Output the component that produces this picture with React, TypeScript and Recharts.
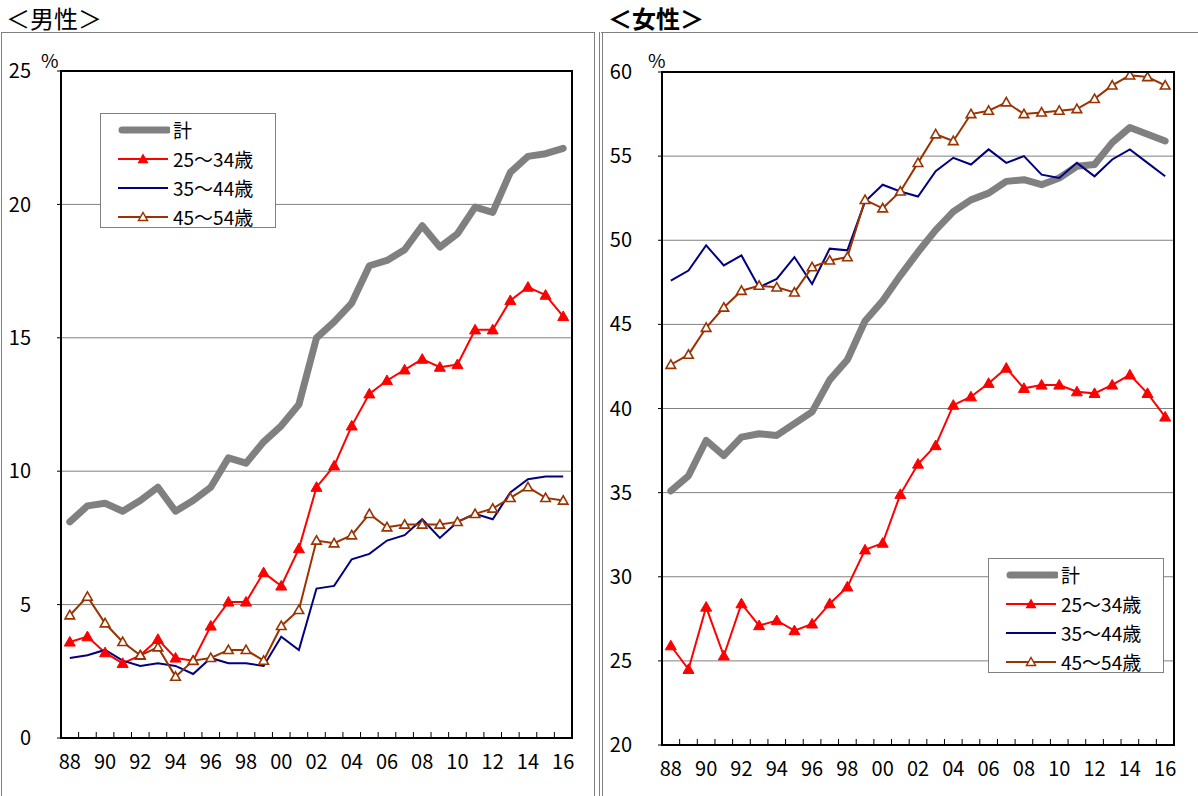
import React from 'react';
import { LineChart, Line, XAxis, YAxis, CartesianGrid } from 'recharts';

const YEARS = ['88', '89', '90', '91', '92', '93', '94', '95', '96', '97', '98', '99', '00', '01', '02', '03', '04', '05', '06', '07', '08', '09', '10', '11', '12', '13', '14', '15', '16'];
const SERIES_NAMES = ['計', '25〜34歳', '35〜44歳', '45〜54歳'];

const MALE_TOTAL = [8.1, 8.7, 8.8, 8.5, 8.9, 9.4, 8.5, 8.9, 9.4, 10.5, 10.3, 11.1, 11.7, 12.5, 15.0, 15.6, 16.3, 17.7, 17.9, 18.3, 19.2, 18.4, 18.9, 19.9, 19.7, 21.2, 21.8, 21.9, 22.1];
const MALE_25_34 = [3.6, 3.8, 3.2, 2.8, 3.1, 3.7, 3.0, 2.9, 4.2, 5.1, 5.1, 6.2, 5.7, 7.1, 9.4, 10.2, 11.7, 12.9, 13.4, 13.8, 14.2, 13.9, 14.0, 15.3, 15.3, 16.4, 16.9, 16.6, 15.8];
const MALE_35_44 = [3.0, 3.1, 3.3, 2.9, 2.7, 2.8, 2.7, 2.4, 3.0, 2.8, 2.8, 2.7, 3.8, 3.3, 5.6, 5.7, 6.7, 6.9, 7.4, 7.6, 8.2, 7.5, 8.1, 8.4, 8.2, 9.2, 9.7, 9.8, 9.8];
const MALE_45_54 = [4.6, 5.3, 4.3, 3.6, 3.1, 3.4, 2.3, 2.9, 3.0, 3.3, 3.3, 2.9, 4.2, 4.8, 7.4, 7.3, 7.6, 8.4, 7.9, 8.0, 8.0, 8.0, 8.1, 8.4, 8.6, 9.0, 9.4, 9.0, 8.9];

const FEMALE_TOTAL = [35.1, 36.0, 38.1, 37.2, 38.3, 38.5, 38.4, 39.1, 39.8, 41.7, 42.9, 45.2, 46.4, 47.9, 49.3, 50.6, 51.7, 52.4, 52.8, 53.5, 53.6, 53.3, 53.7, 54.4, 54.5, 55.8, 56.7, 56.3, 55.9];
const FEMALE_25_34 = [25.9, 24.5, 28.2, 25.3, 28.4, 27.1, 27.4, 26.8, 27.2, 28.4, 29.4, 31.6, 32.0, 34.9, 36.7, 37.8, 40.2, 40.7, 41.5, 42.4, 41.2, 41.4, 41.4, 41.0, 40.9, 41.4, 42.0, 40.9, 39.5];
const FEMALE_35_44 = [47.6, 48.2, 49.7, 48.5, 49.1, 47.2, 47.7, 49.0, 47.4, 49.5, 49.4, 52.3, 53.3, 52.9, 52.6, 54.1, 54.9, 54.5, 55.4, 54.6, 55.0, 53.9, 53.7, 54.6, 53.8, 54.8, 55.4, 54.6, 53.8];
const FEMALE_45_54 = [42.6, 43.2, 44.8, 46.0, 47.0, 47.3, 47.2, 46.9, 48.4, 48.8, 49.0, 52.4, 51.9, 52.9, 54.6, 56.3, 55.9, 57.5, 57.7, 58.2, 57.5, 57.6, 57.7, 57.8, 58.4, 59.2, 59.8, 59.7, 59.2];

const MALE_TICKS = [0, 5, 10, 15, 20, 25];
const FEMALE_TICKS = [20, 25, 30, 35, 40, 45, 50, 55, 60];

const NUM_FONT = '"Liberation Sans Narrow", "Arial Narrow", "Noto Sans CJK JP", sans-serif';
const JP_FONT = '"Noto Sans CJK JP", sans-serif';

const GRAY = '#808080';
const RED = '#ff0000';
const NAVY = '#000080';
const BROWN = '#993300';

const buildRows = (total: number[], a: number[], b: number[], c: number[]) =>
  YEARS.map((year, i) => ({ year, total: total[i], a: a[i], b: b[i], c: c[i] }));

const maleRows = buildRows(MALE_TOTAL, MALE_25_34, MALE_35_44, MALE_45_54);
const femaleRows = buildRows(FEMALE_TOTAL, FEMALE_25_34, FEMALE_35_44, FEMALE_45_54);

// triangle marker, used by both the lines and the legend
const triPath = (cx: number, cy: number, s: number) =>
  `M${cx},${cy - s} L${cx + s},${cy + s * 0.75} L${cx - s},${cy + s * 0.75} Z`;

const redDot = (p: any) =>
  p.cx == null ? null : <path key={`r${p.index}`} d={triPath(p.cx, p.cy, 5.5)} fill={RED} stroke={RED} strokeWidth={1} />;
const brownDot = (p: any) =>
  p.cx == null ? null : <path key={`b${p.index}`} d={triPath(p.cx, p.cy, 4.8)} fill="#fff" stroke={BROWN} strokeWidth={1.6} />;

// x ticks: labels on even years, small inward marks between categories
const makeXTick = (band: number) => (p: any) => {
  const { x, y, payload, index } = p;
  const even = parseInt(payload.value, 10) % 2 === 0;
  return (
    <g>
      {index > 0 && <line x1={x - band / 2} x2={x - band / 2} y1={y} y2={y - 6} stroke="#000" strokeWidth={1} />}
      {even && (
        <text x={x} y={y + 31} textAnchor="middle" fontSize={20} fontFamily={NUM_FONT} fill="#000">
          {payload.value}
        </text>
      )}
    </g>
  );
};

function LegendBox({ left, top }: { left: number; top: number }) {
  const row = (i: number) => {
    let sample;
    if (i === 0) sample = <line x1={4} x2={50} y1={7} y2={7} stroke={GRAY} strokeWidth={7} strokeLinecap="round" />;
    else if (i === 1)
      sample = (
        <g>
          <line x1={0} x2={50} y1={7} y2={7} stroke={RED} strokeWidth={2} />
          <path d={triPath(25, 7, 5.5)} fill={RED} />
        </g>
      );
    else if (i === 2) sample = <line x1={0} x2={50} y1={7} y2={7} stroke={NAVY} strokeWidth={2} />;
    else
      sample = (
        <g>
          <line x1={0} x2={50} y1={7} y2={7} stroke={BROWN} strokeWidth={2} />
          <path d={triPath(25, 7, 4.5)} fill="#fff" stroke={BROWN} strokeWidth={1.5} />
        </g>
      );
    return (
      <div key={i} style={{ display: 'flex', alignItems: 'center', height: 29 }}>
        <svg width={52} height={14} style={{ marginLeft: 17, marginRight: 3 }}>
          {sample}
        </svg>
        <span style={{ fontFamily: NUM_FONT, fontSize: 19, color: '#000' }}>{SERIES_NAMES[i]}</span>
      </div>
    );
  };
  return (
    <div
      style={{
        position: 'absolute',
        left,
        top,
        width: 176,
        height: 115,
        border: '1px solid #808080',
        background: '#fff',
        boxSizing: 'border-box',
        paddingTop: 1,
      }}
    >
      {[0, 1, 2, 3].map(row)}
    </div>
  );
}

function Panel({
  rows,
  domain,
  ticks,
  width,
  left,
  plotLeft,
  plotRight,
  plotTop,
  plotBottom,
}: {
  rows: any[];
  domain: [number, number];
  ticks: number[];
  width: number;
  left: number;
  plotLeft: number;
  plotRight: number;
  plotTop: number;
  plotBottom: number;
}) {
  const H = 796;
  const plotW = plotRight - plotLeft;
  const band = plotW / YEARS.length;
  return (
    <div style={{ position: 'absolute', left, top: 0, width, height: H }}>
      <LineChart
        width={width}
        height={H}
        data={rows}
        margin={{ top: plotTop, right: width - plotRight, bottom: H - plotBottom - 30, left: 0 }}
      >
        <CartesianGrid horizontal vertical={false} stroke={GRAY} strokeWidth={1} />
        <XAxis
          dataKey="year"
          interval={0}
          height={30}
          padding={{ left: band / 2, right: band / 2 }}
          tickLine={false}
          tickSize={0}
          tickMargin={0}
          axisLine={{ stroke: '#000', strokeWidth: 2 }}
          tick={makeXTick(band)}
        />
        <YAxis
          domain={domain}
          ticks={ticks}
          width={plotLeft}
          interval={0}
          tickSize={4}
          tickMargin={26}
          tickLine={{ stroke: '#000' }}
          axisLine={{ stroke: '#000', strokeWidth: 2 }}
          tick={{ fontSize: 20, fontFamily: NUM_FONT, fill: '#000' }}
          allowDataOverflow
        />
        <Line dataKey="total" name={SERIES_NAMES[0]} stroke={GRAY} strokeWidth={7} strokeLinejoin="round" strokeLinecap="round" dot={false} isAnimationActive={false} />
        <Line dataKey="a" name={SERIES_NAMES[1]} stroke={RED} strokeWidth={2} dot={redDot} isAnimationActive={false} />
        <Line dataKey="b" name={SERIES_NAMES[2]} stroke={NAVY} strokeWidth={2} dot={false} isAnimationActive={false} />
        <Line dataKey="c" name={SERIES_NAMES[3]} stroke={BROWN} strokeWidth={2} dot={brownDot} isAnimationActive={false} />
      </LineChart>
      {/* plot frame */}
      <div
        style={{
          position: 'absolute',
          left: plotLeft - 1,
          top: plotTop - 1,
          width: plotW + 2,
          height: plotBottom - plotTop + 2,
          border: '2px solid #000',
          boxSizing: 'border-box',
          pointerEvents: 'none',
        }}
      />
    </div>
  );
}

export default function App() {
  return (
    <div style={{ position: 'absolute', left: 0, top: 0, width: 1198, height: 796, overflow: 'hidden', background: '#fff' }}>
      {/* panel frames */}
      <div style={{ position: 'absolute', left: 1, top: 32, width: 594, height: 780, border: '1px solid #808080', boxSizing: 'border-box' }} />
      <div style={{ position: 'absolute', left: 599, top: 32, width: 610, height: 780, borderLeft: '4px double #808080', borderTop: '1px solid #808080', boxSizing: 'border-box' }} />

      <div style={{ position: 'absolute', left: 6, top: 6, lineHeight: '24px', fontFamily: JP_FONT, fontSize: 24, color: '#000' }}>＜男性＞</div>
      <div style={{ position: 'absolute', left: 608, top: 6, lineHeight: '24px', fontFamily: JP_FONT, fontSize: 24, fontWeight: 700, color: '#000' }}>＜女性＞</div>

      <Panel rows={maleRows} domain={[0, 25]} ticks={MALE_TICKS} width={598} left={0} plotLeft={61} plotRight={572} plotTop={71} plotBottom={738} />
      <Panel rows={femaleRows} domain={[20, 60]} ticks={FEMALE_TICKS} width={600} left={598} plotLeft={64} plotRight={576} plotTop={72} plotBottom={745} />

      <div style={{ position: 'absolute', left: 41, top: 46, fontFamily: NUM_FONT, fontSize: 19, color: '#000' }}>%</div>
      <div style={{ position: 'absolute', left: 648, top: 46, fontFamily: NUM_FONT, fontSize: 19, color: '#000' }}>%</div>

      <LegendBox left={100} top={113} />
      <LegendBox left={988} top={558} />
    </div>
  );
}
